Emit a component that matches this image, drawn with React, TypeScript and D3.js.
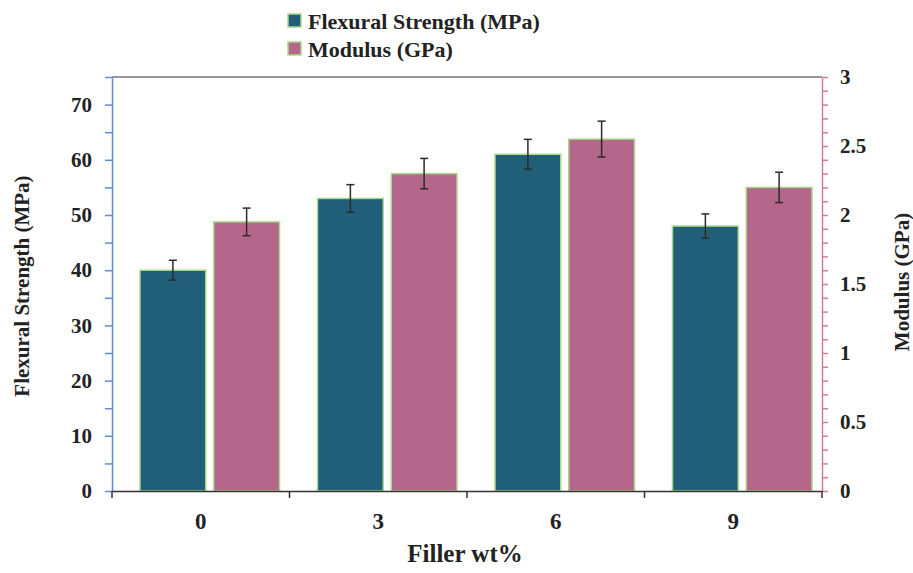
import React, { useEffect, useRef } from "react";
import * as d3 from "d3";

const categories = ["0", "3", "6", "9"];
const flexural = [40, 53, 61, 48];
const flexuralErr = [1.8, 2.5, 2.7, 2.2];
const modulus = [1.95, 2.3, 2.55, 2.2];
const modulusErr = [0.1, 0.11, 0.13, 0.11];
const leftTicks = [0, 10, 20, 30, 40, 50, 60, 70];
const rightTicks = [0, 0.5, 1, 1.5, 2, 2.5, 3];

const FONT = "'Liberation Serif', serif";

export default function App() {
  const svgRef = useRef<SVGSVGElement>(null);

  useEffect(() => {
    const width = 913;
    const height = 573;
    const margin = { top: 77, right: 91, bottom: 82, left: 112 };

    const svg = d3.select(svgRef.current).attr("width", width).attr("height", height);
    svg.selectAll("*").remove();

    const innerW = width - margin.left - margin.right;
    const innerH = height - margin.top - margin.bottom;
    const g = svg.append("g").attr("transform", `translate(${margin.left},${margin.top})`);

    const x = d3.scaleBand().domain(categories).range([0, innerW]).padding(0);
    const sub = d3.scaleBand().domain(["flex", "mod"]).range([28, x.bandwidth() - 10]).paddingInner(0.108);
    const yL = d3.scaleLinear().domain([0, 75]).range([innerH, 0]);
    const yR = d3.scaleLinear().domain([0, 3]).range([innerH, 0]);

    const flexColor = "#215e79";
    const modColor = "#b5668b";
    const edge = "#a9d98c";

    // top border
    g.append("line").attr("x1", 0).attr("x2", innerW).attr("y1", 0).attr("y2", 0)
      .attr("stroke", "#333").attr("stroke-width", 1.2);

    // bars
    categories.forEach((c, i) => {
      const x0 = x(c)!;
      g.append("rect")
        .attr("x", x0 + sub("flex")!).attr("y", yL(flexural[i]))
        .attr("width", sub.bandwidth()).attr("height", innerH - yL(flexural[i]))
        .attr("fill", flexColor).attr("stroke", edge).attr("stroke-width", 1.5);
      g.append("rect")
        .attr("x", x0 + sub("mod")!).attr("y", yR(modulus[i]))
        .attr("width", sub.bandwidth()).attr("height", innerH - yR(modulus[i]))
        .attr("fill", modColor).attr("stroke", edge).attr("stroke-width", 1.5);

      const errs = [
        { cx: x0 + sub("flex")! + sub.bandwidth() / 2, lo: yL(flexural[i] - flexuralErr[i]), hi: yL(flexural[i] + flexuralErr[i]) },
        { cx: x0 + sub("mod")! + sub.bandwidth() / 2, lo: yR(modulus[i] - modulusErr[i]), hi: yR(modulus[i] + modulusErr[i]) },
      ];
      errs.forEach(e => {
        const eg = g.append("g").attr("stroke", "#2b2b2b").attr("stroke-width", 1.5);
        eg.append("line").attr("x1", e.cx).attr("x2", e.cx).attr("y1", e.lo).attr("y2", e.hi);
        eg.append("line").attr("x1", e.cx - 4).attr("x2", e.cx + 4).attr("y1", e.lo).attr("y2", e.lo);
        eg.append("line").attr("x1", e.cx - 4).attr("x2", e.cx + 4).attr("y1", e.hi).attr("y2", e.hi);
      });
    });

    // left axis
    const left = g.append("g")
      .call(d3.axisLeft(yL).tickValues(d3.range(0, 75.1, 5)).tickSize(7).tickSizeOuter(0)
        .tickFormat(d => (leftTicks.includes(+d) ? String(d) : "")));
    left.select(".domain").attr("stroke", "#5b8dd8").attr("stroke-width", 1.5);
    left.selectAll(".tick line").attr("stroke", "#5b8dd8").attr("stroke-width", 1.5);
    left.selectAll(".tick text").attr("x", -20).attr("font-family", FONT).attr("font-weight", "bold")
      .attr("font-size", 21).attr("fill", "#222");

    // right axis
    const right = g.append("g").attr("transform", `translate(${innerW},0)`)
      .call(d3.axisRight(yR).tickValues(d3.range(0, 30.1, 1).map(v => v / 10)).tickSize(6).tickSizeOuter(0)
        .tickFormat(d => (rightTicks.some(t => Math.abs(t - +d) < 1e-6) ? String(d) : "")));
    right.select(".domain").attr("stroke", "#d27aa0").attr("stroke-width", 1.5);
    right.selectAll(".tick line").attr("stroke", "#d27aa0").attr("stroke-width", 1.5);
    right.selectAll(".tick text").attr("x", 18).attr("font-family", FONT).attr("font-weight", "bold")
      .attr("font-size", 21).attr("fill", "#222");

    // bottom axis
    const bottom = g.append("g").attr("transform", `translate(0,${innerH})`)
      .call(d3.axisBottom(x).tickSize(0).tickPadding(22));
    bottom.select(".domain").attr("stroke", "#333").attr("stroke-width", 1.5);
    bottom.selectAll(".tick text").attr("font-family", FONT).attr("font-weight", "bold")
      .attr("font-size", 23).attr("fill", "#222");
    const bounds = [...categories.map(c => x(c)!), innerW];
    bounds.forEach(b => {
      bottom.append("line").attr("x1", b).attr("x2", b).attr("y1", 0).attr("y2", 7)
        .attr("stroke", "#333").attr("stroke-width", 1.5);
    });

    // axis titles
    svg.append("text")
      .attr("transform", `translate(29,${margin.top + innerH / 2 + 2}) rotate(-90)`)
      .attr("text-anchor", "middle").attr("font-family", FONT).attr("font-weight", "bold")
      .attr("font-size", 21).attr("fill", "#222").text("Flexural Strength (MPa)");
    svg.append("text")
      .attr("transform", `translate(909,${margin.top + innerH / 2 - 2}) rotate(-90)`)
      .attr("text-anchor", "middle").attr("font-family", FONT).attr("font-weight", "bold")
      .attr("font-size", 21).attr("fill", "#222").text("Modulus (GPa)");
    svg.append("text")
      .attr("x", margin.left + innerW / 2 - 2).attr("y", 562)
      .attr("text-anchor", "middle").attr("font-family", FONT).attr("font-weight", "bold")
      .attr("font-size", 25).attr("fill", "#222").text("Filler wt%");

    // legend
    const legend = [
      { label: "Flexural Strength (MPa)", color: flexColor },
      { label: "Modulus (GPa)", color: modColor },
    ];
    legend.forEach((l, i) => {
      const ly = 14 + i * 28;
      svg.append("rect").attr("x", 288).attr("y", ly).attr("width", 13).attr("height", 13)
        .attr("fill", l.color).attr("stroke", edge).attr("stroke-width", 1.5);
      svg.append("text").attr("x", 308).attr("y", ly + 15).attr("font-family", FONT)
        .attr("font-weight", "bold").attr("font-size", 22).attr("fill", "#222").text(l.label);
    });
  }, []);

  return <svg ref={svgRef} style={{ position: "absolute", left: 0, top: 0 }}></svg>;
}
